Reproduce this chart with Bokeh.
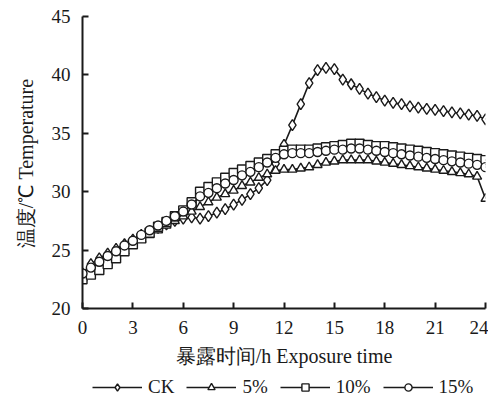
from bokeh.plotting import figure
from bokeh.models import Range1d, Legend, LegendItem, FixedTicker
from bokeh.layouts import column
from bokeh.embed import file_html
from bokeh.resources import INLINE

hours = [i * 0.5 for i in range(49)]

ck = [23.0, 23.8, 24.3, 24.7, 25.1, 25.5, 25.9, 26.3, 26.6, 26.9, 27.2, 27.5, 27.7, 27.8,
      27.7, 27.9, 28.2, 28.5, 28.9, 29.3, 29.8, 30.3, 31.0, 32.4, 34.0, 35.7, 37.5, 39.3,
      40.4, 40.6, 40.5, 39.6, 39.2, 38.8, 38.4, 38.1, 37.8, 37.6, 37.5, 37.3, 37.2, 37.1,
      37.0, 36.9, 36.8, 36.7, 36.6, 36.5, 36.2]
p5 = [22.6, 23.0, 23.4, 23.9, 24.4, 24.9, 25.4, 25.9, 26.3, 26.7, 27.1, 27.5, 27.9, 28.3,
      28.7, 29.1, 29.5, 29.8, 30.1, 30.5, 30.8, 31.2, 31.5, 31.8, 31.9, 31.9, 32.0, 32.1,
      32.3, 32.5, 32.6, 32.7, 32.7, 32.7, 32.7, 32.6, 32.5, 32.4, 32.3, 32.2, 32.1, 32.0,
      31.9, 31.8, 31.7, 31.6, 31.5, 31.3, 29.4]
p10 = [22.5, 22.9, 23.3, 23.8, 24.3, 24.9, 25.5, 26.0, 26.5, 27.0, 27.4, 27.9, 28.4, 29.1,
       30.0, 30.4, 30.8, 31.2, 31.6, 31.9, 32.2, 32.5, 32.8, 33.2, 33.5, 33.6, 33.6, 33.6,
       33.7, 33.8, 33.9, 34.0, 34.1, 34.1, 34.0, 33.9, 33.9, 33.8, 33.7, 33.6, 33.5, 33.4,
       33.3, 33.2, 33.1, 33.0, 32.9, 32.8, 32.7]
p15 = [23.0, 23.5, 24.0, 24.5, 24.9, 25.4, 25.8, 26.3, 26.7, 27.1, 27.5, 27.9, 28.3, 28.9,
       29.6, 29.9, 30.3, 30.7, 31.0, 31.4, 31.7, 32.1, 32.5, 32.9, 33.2, 33.3, 33.3, 33.3,
       33.4, 33.5, 33.6, 33.6, 33.7, 33.7, 33.6, 33.5, 33.4, 33.3, 33.2, 33.1, 33.0, 32.9,
       32.8, 32.7, 32.6, 32.5, 32.4, 32.3, 32.1]

series_names = ["CK", "5%", "10%", "15%"]
series_markers = ["diamond", "triangle", "square", "circle"]
x_ticks = [0, 3, 6, 9, 12, 15, 18, 21, 24]
y_ticks = [20, 25, 30, 35, 40, 45]

FONT = "Liberation Serif"
INK = "#1a1a1a"

p = figure(width=488, height=376, x_range=Range1d(0, 24), y_range=Range1d(20, 45),
           output_backend="svg", toolbar_location=None,
           min_border_left=82, min_border_right=3, min_border_top=16, min_border_bottom=68)
p.grid.visible = False
p.outline_line_color = None
p.background_fill_color = "white"
p.border_fill_color = "white"

p.xaxis.ticker = FixedTicker(ticks=x_ticks)
p.yaxis.ticker = FixedTicker(ticks=y_ticks)
for ax in (p.xaxis[0], p.yaxis[0]):
    ax.axis_line_width = 2
    ax.axis_line_color = INK
    ax.major_tick_line_width = 2
    ax.major_tick_line_color = INK
    ax.major_tick_in = 6
    ax.major_tick_out = 0
    ax.minor_tick_line_color = None
    ax.major_label_text_font = FONT
    ax.major_label_text_font_size = "19px"
    ax.major_label_text_color = INK
    ax.axis_label_text_font = FONT
    ax.axis_label_text_font_size = "20px"
    ax.axis_label_text_font_style = "normal"
    ax.axis_label_text_color = INK

p.xaxis.axis_label = "暴露时间/h Exposure time"
p.yaxis.axis_label = "温度/℃ Temperature"
p.xaxis.major_label_standoff = 12
p.xaxis.axis_label_standoff = 8
p.yaxis.major_label_standoff = 12
p.yaxis.axis_label_standoff = 12

# legend strip below the chart (its renderers lie outside its own range, so only the legend shows)
q = figure(width=488, height=24, x_range=Range1d(100, 101), y_range=Range1d(100, 101),
           output_backend="svg", toolbar_location=None, x_axis_type=None, y_axis_type=None,
           min_border=0)
q.grid.visible = False
q.outline_line_color = None
q.background_fill_color = "white"
q.border_fill_color = "white"

items = []
for name, marker, vals in zip(series_names, series_markers, [ck, p5, p10, p15]):
    size = 9 if marker != "diamond" else 11
    p.line(hours, vals, line_color=INK, line_width=1.6)
    p.scatter(hours, vals, marker=marker, size=size,
              fill_color="white", line_color=INK, line_width=1.4)
    ln = q.line(hours, vals, line_color=INK, line_width=1.6)
    sc = q.scatter(hours, vals, marker=marker, size=size,
                   fill_color="white", line_color=INK, line_width=1.4)
    items.append(LegendItem(label=name, renderers=[ln, sc]))

legend = Legend(items=items, orientation="horizontal", location=(10, 2),
                glyph_width=50, glyph_height=18, label_text_font=FONT,
                label_text_font_size="19px", label_text_color=INK,
                spacing=12, label_standoff=6, padding=0, margin=0,
                border_line_color=None, background_fill_alpha=0)
q.add_layout(legend, "center")

layout = column(p, q, spacing=0)
open("out.html", "w").write(file_html(layout, INLINE))
